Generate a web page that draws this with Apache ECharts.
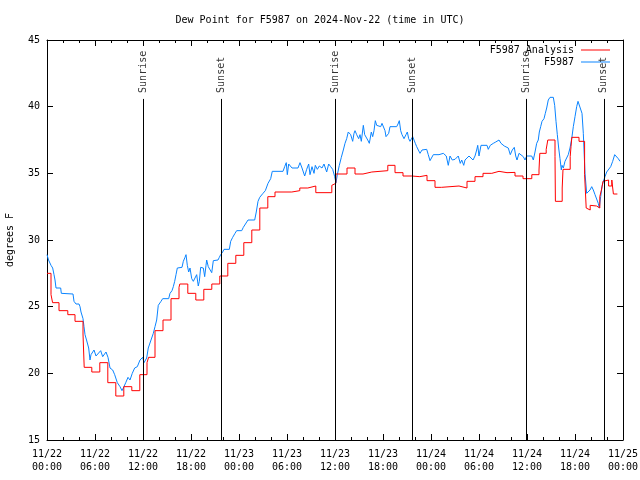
<!DOCTYPE html>
<html>
<head>
<meta charset="utf-8">
<script src="https://cdn.jsdelivr.net/npm/echarts/dist/echarts.min.js"></script>
<style>html,body{margin:0;padding:0;background:#fff}#c{width:640px;height:480px}</style>
</head>
<body>
<div id="c"></div>
<script>
// ---- data (hours since 2024-11-22 00:00 UTC, degrees F) ----
const titleText = 'Dew Point for F5987 on 2024-Nov-22 (time in UTC)';
const yName = 'degrees F';
const dayLabels = ['11/22', '11/23', '11/24', '11/25'];
const hourLabels = ['00:00', '06:00', '12:00', '18:00'];
const yTicks = [15, 20, 25, 30, 35, 40, 45];

const sunTimes = [12.04, 21.8, 36.04, 45.66, 59.9, 69.6];
const sunNames = ['Sunrise', 'Sunset', 'Sunrise', 'Sunset', 'Sunrise', 'Sunset'];
const sunTop = 40.58;

// analysis (step series: value starting at given hour)
const analysis = [
  [0,27.5],[0.5,25.9],[0.7,25.3],[1.5,24.7],[2.6,24.4],[3.5,23.9],[4.5,22.95],[4.65,20.45],
  [5.6,20.1],[6.6,20.8],[7.6,19.3],[8.6,18.3],[9.6,19.0],[10.6,18.7],[11.6,19.9],[12.5,20.8],
  [12.7,21.2],[13.5,23.2],[14.5,24.0],[15.5,25.6],[16.5,26.45],[16.6,26.7],[17.6,26.0],[18.6,25.5],
  [19.6,26.3],[20.6,26.7],[21.6,27.3],[22.6,28.25],[23.6,28.85],[24.6,29.8],[25.6,30.75],[26.6,32.4],
  [27.6,33.25],[28.5,33.6],[30.6,33.7],[31.6,33.9],[32.6,34.05],[33.6,33.55],[35.6,34.1],[35.8,34.25],
  [36.1,34.95],[37.5,35.4],[38.5,34.95],[39.5,35.1],[40.6,35.2],[42.6,35.6],[43.5,35.05],[44.5,34.8],
  [45.6,34.75],[46.6,34.85],[47.5,34.45],[48.5,33.95],[49.3,34.05],[51.5,33.9],[52.5,34.4],[53.5,34.75],
  [54.5,35.0],[55.6,35.15],[56.5,35.05],[57.5,35.07],[58.5,34.8],[59.5,34.6],[60.6,34.9],[61.5,35.25],
  [61.6,36.5],[62.4,36.8],[62.6,37.5],[63.5,36.25],[63.55,32.9],[64.4,33.9],[64.5,35.3],[65.4,36.25],
  [65.5,37.0],[65.6,37.7],[66.5,37.4],[67.2,34.9],[67.4,32.4],[67.6,32.25],[67.9,32.6],[68.1,32.55],
  [68.7,32.4],[69.1,33.25],[69.3,33.75],[69.5,34.4],[69.75,34.5],[70.2,34.05],[70.6,34.5],[70.8,33.45],
  [71.3,33.45]
];

// observations
const observed = [
  [0,28.9],[0.19,28.5],[0.5,28.1],[0.71,27.9],[0.875,27.4],[1.0,27.0],[1.125,26.4],[1.71,26.4],
  [1.79,26.0],[3.25,25.95],[3.375,25.4],[3.625,25.2],[4.0,25.2],[4.125,25.0],[4.25,24.6],[4.5,24.1],
  [4.625,23.5],[4.75,22.9],[4.94,22.5],[5.21,21.9],[5.375,21.0],[5.5,21.4],[5.875,21.75],[6.125,21.3],
  [6.375,21.3],[6.71,21.7],[6.96,21.25],[7.21,21.3],[7.375,21.6],[7.625,21.2],[7.875,20.4],[8.21,20.25],
  [8.46,19.9],[8.79,19.3],[9.125,19.0],[9.375,18.7],[9.54,18.9],[9.84,19.3],[10.125,19.7],[10.375,19.5],
  [10.66,20.0],[10.96,20.4],[11.29,20.5],[11.625,21.0],[11.96,21.2],[12.125,20.8],[12.46,21.15],[12.66,21.9],
  [13.0,22.5],[13.29,23.0],[13.5,23.5],[13.71,24.0],[13.91,25.1],[14.25,25.4],[14.46,25.6],[15.21,25.6],
  [15.375,26.0],[15.625,26.2],[15.79,26.5],[15.96,26.9],[16.125,27.4],[16.29,27.9],[16.875,27.95],[17.04,28.4],
  [17.25,28.7],[17.375,28.9],[17.54,28.1],[17.71,27.6],[17.875,27.9],[18.09,27.1],[18.29,26.9],[18.5,26.9],
  [18.71,27.4],[18.91,26.55],[19.04,26.9],[19.21,27.95],[19.54,27.9],[19.71,27.25],[19.875,28.1],[19.96,28.5],
  [20.16,28.0],[20.375,27.9],[20.59,27.55],[20.79,28.45],[21.375,28.5],[21.54,28.7],[21.71,28.9],[21.96,29.1],
  [22.125,29.3],[22.79,29.3],[22.96,29.9],[23.21,30.2],[23.5,30.5],[23.71,30.7],[24.34,30.7],[24.54,30.95],
  [24.71,31.1],[25.125,31.5],[25.96,31.5],[26.16,32.1],[26.375,32.9],[26.59,33.2],[27.0,33.5],[27.29,33.7],
  [27.625,34.25],[27.96,34.6],[28.16,35.15],[29.5,35.15],[29.71,35.5],[29.91,35.8],[30.04,34.9],[30.21,35.7],
  [30.375,35.8],[30.625,35.4],[31.375,35.4],[31.625,35.8],[31.875,35.4],[32.21,34.8],[32.46,35.3],[32.71,35.7],
  [32.875,34.9],[33.125,35.5],[33.375,35.0],[33.54,35.6],[33.79,35.3],[34.04,35.55],[34.375,35.4],[34.625,35.7],
  [34.79,35.7],[34.96,35.1],[35.21,35.7],[35.46,35.5],[35.71,35.3],[35.96,34.75],[36.125,34.3],[36.29,34.9],
  [36.54,35.6],[36.79,36.2],[37.04,36.75],[37.25,37.25],[37.46,37.6],[37.66,38.1],[37.79,38.2],[37.96,37.9],
  [38.21,37.4],[38.375,38.0],[38.5,38.2],[38.71,37.9],[38.96,37.6],[39.125,37.9],[39.29,37.4],[39.54,38.6],
  [39.71,37.9],[39.875,37.75],[40.09,37.5],[40.29,37.25],[40.54,38.1],[40.71,37.75],[40.875,38.2],[41.04,38.95],
  [41.21,38.6],[41.46,38.5],[41.71,38.5],[41.875,38.75],[42.04,38.7],[42.25,38.2],[42.375,37.75],[42.54,37.6],
  [42.71,38.0],[42.875,38.5],[43.71,38.5],[43.875,38.7],[44.04,38.95],[44.21,38.2],[44.375,37.9],[44.625,37.6],
  [44.875,37.9],[45.04,38.1],[45.21,37.6],[45.375,37.4],[45.71,37.75],[45.875,37.5],[46.04,37.25],[46.21,37.0],
  [46.46,36.9],[46.625,36.5],[46.875,36.75],[47.04,36.9],[47.46,36.8],[47.66,36.4],[47.875,35.95],[48.125,36.05],
  [48.29,36.4],[49.0,36.4],[49.25,36.3],[49.54,36.5],[49.75,36.6],[49.91,36.3],[50.16,35.6],[50.375,36.3],
  [50.66,36.0],[51.0,36.05],[51.25,35.9],[51.41,36.3],[51.66,35.75],[51.84,36.0],[52.09,35.6],[52.25,36.0],
  [52.5,35.9],[52.75,36.3],[53.0,36.45],[53.25,36.0],[53.5,36.3],[53.71,36.75],[53.84,37.1],[54.0,36.3],
  [54.25,37.1],[55.0,37.1],[55.16,36.8],[55.41,37.1],[55.79,37.25],[56.09,37.35],[56.34,37.25],[56.5,37.5],
  [56.75,37.25],[56.91,37.4],[57.16,37.05],[57.41,37.1],[57.66,36.9],[57.91,36.4],[58.16,36.75],[58.41,36.95],
  [58.59,36.3],[58.75,36.0],[59.0,36.5],[59.25,36.6],[59.54,36.25],[59.75,36.0],[59.96,36.3],[60.59,36.3],
  [60.79,36.0],[61.0,36.6],[61.21,37.25],[61.41,37.5],[61.54,38.1],[61.71,38.5],[61.875,38.9],[62.125,39.1],
  [62.29,39.5],[62.46,39.9],[62.66,40.5],[62.875,40.7],[63.29,40.7],[63.46,40.1],[63.625,38.9],[63.79,37.9],
  [63.96,36.9],[64.125,36.1],[64.29,35.25],[64.375,35.6],[64.54,35.4],[64.75,35.9],[64.96,35.8],[65.16,36.4],
  [65.375,36.9],[65.59,37.6],[65.79,38.5],[66.0,39.25],[66.21,40.0],[66.375,40.4],[66.625,40.3],[66.875,39.5],
  [67.04,38.0],[67.25,35.0],[67.46,33.5],[67.66,33.4],[67.875,33.75],[68.09,34.0],[68.29,33.75],[68.5,33.4],
  [68.71,33.25],[68.91,32.75],[69.04,32.4],[69.21,33.25],[69.375,34.0],[69.54,34.4],[69.75,34.75],[69.96,35.1],
  [70.21,35.25],[70.46,35.5],[70.71,35.9],[70.96,36.4],[71.21,36.45],[71.41,36.1],[71.625,35.9]
];

// ---- chart ----
const FONT = 'DejaVu Sans Mono';
const chart = echarts.init(document.getElementById('c'), null, {renderer: 'canvas'});
const baseX = {
  type: 'value', min: 0, max: 72, interval: 6,
  axisLine: {show: true, onZero: false, lineStyle: {color: '#000', width: 1}},
  axisTick: {show: true, inside: true, length: 6, lineStyle: {color: '#000'}},
  minorTick: {show: true, splitNumber: 3, length: 3, lineStyle: {color: '#000'}},
  splitLine: {show: false}
};
const baseY = {
  type: 'value', min: yTicks[0], max: yTicks[yTicks.length - 1], interval: 5,
  axisLine: {show: true, onZero: false, lineStyle: {color: '#000', width: 1}},
  axisTick: {show: true, inside: true, length: 6, lineStyle: {color: '#000'}},
  splitLine: {show: false}
};
chart.setOption({
  animation: false,
  backgroundColor: '#fff',
  title: {
    text: titleText, left: 'center', top: 10,
    textStyle: {fontFamily: FONT, fontSize: 10, fontWeight: 'normal', color: '#000'}
  },
  grid: {left: 47, right: 17, top: 40, bottom: 40, containLabel: false, outerBoundsMode: 'none'},
  legend: {
    data: [
      {name: 'F5987 Analysis', icon: 'rect', itemStyle: {color: '#ff0000'}},
      {name: 'F5987', icon: 'rect', itemStyle: {color: '#0a84ff'}}
    ],
    orient: 'vertical', align: 'right', right: 30, top: 44, padding: 0,
    itemWidth: 29, itemHeight: 1, itemGap: 0,
    textStyle: {fontFamily: FONT, fontSize: 10, color: '#000', lineHeight: 12, padding: [0, 2, 0, 0]}
  },
  xAxis: [
    Object.assign({}, baseX, {
      position: 'bottom',
      axisLabel: {
        fontFamily: FONT, fontSize: 10, color: '#000', margin: 8, lineHeight: 13,
        formatter: v => dayLabels[Math.floor(v / 24)] + '\n' + hourLabels[(v % 24) / 6]
      }
    }),
    Object.assign({}, baseX, {position: 'top', axisLabel: {show: false}})
  ],
  yAxis: [
    Object.assign({}, baseY, {
      position: 'left',
      name: yName, nameLocation: 'middle', nameGap: 32, nameRotate: 90,
      nameTextStyle: {fontFamily: FONT, fontSize: 10, color: '#000'},
      axisLabel: {fontFamily: FONT, fontSize: 10, color: '#000', margin: 7}
    }),
    Object.assign({}, baseY, {position: 'right', axisLabel: {show: false}})
  ],
  series: [
    {
      name: 'F5987 Analysis', type: 'line', step: 'end', data: analysis,
      showSymbol: false, symbol: 'none', z: 3,
      lineStyle: {color: '#ff0000', width: 1}, itemStyle: {color: '#ff0000'}
    },
    {
      name: 'F5987', type: 'line', data: observed,
      showSymbol: false, symbol: 'none', z: 2,
      lineStyle: {color: '#0a84ff', width: 1}, itemStyle: {color: '#0a84ff'}
    },
    {
      name: 'sun', type: 'scatter', symbolSize: 0, z: 4,
      data: sunTimes.map((t, i) => ({name: sunNames[i], value: [t, sunTop]})),
      label: {
        show: true, formatter: '{b}', position: 'top', distance: 6, rotate: 90,
        align: 'left', verticalAlign: 'middle',
        fontFamily: FONT, fontSize: 10, color: '#000'
      },
      markLine: {
        silent: true, symbol: ['none', 'none'], animation: false,
        label: {show: false},
        lineStyle: {color: '#000', width: 1, type: 'solid'},
        data: sunTimes.map(t => [{coord: [t, yTicks[0]]}, {coord: [t, sunTop]}])
      }
    }
  ]
});
</script>
</body>
</html>
